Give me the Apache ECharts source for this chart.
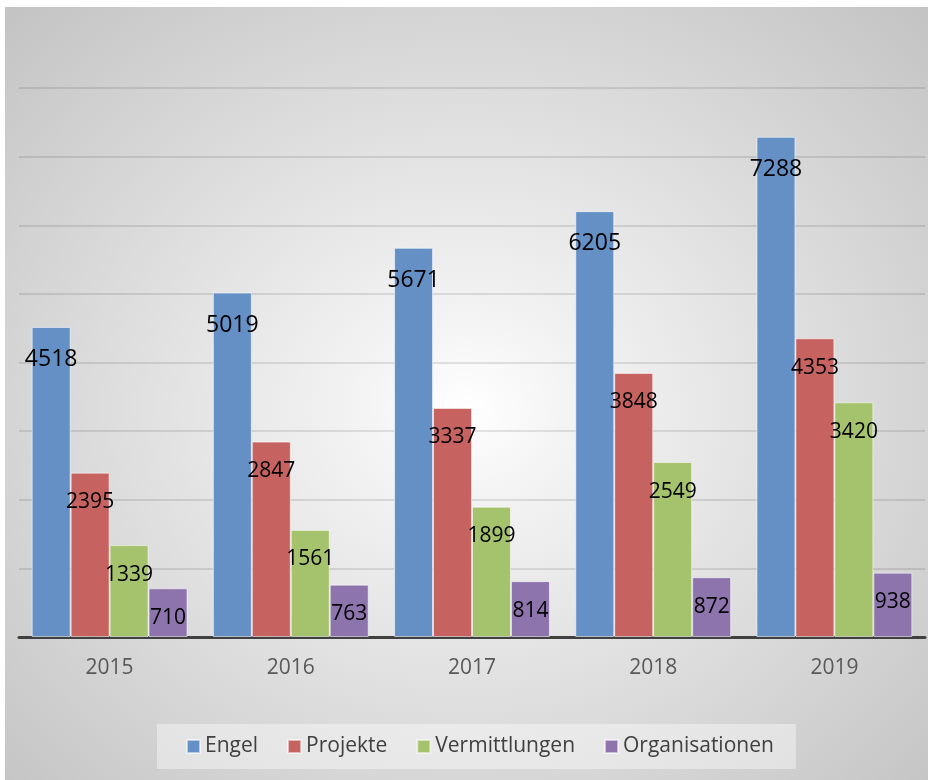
<!DOCTYPE html>
<html>
<head>
<meta charset="utf-8">
<script src="https://cdn.jsdelivr.net/npm/echarts@6/dist/echarts.min.js"></script>
<style>
html,body{margin:0;padding:0;background:#fff;width:933px;height:780px;overflow:hidden;}
#bg{position:absolute;left:5px;top:7px;width:923px;height:773px;
background:radial-gradient(ellipse farthest-corner at 50% 52%, #ffffff 0%, #f4f4f4 15%, #c3c3c3 100%);}
#chart{position:absolute;left:0;top:0;width:933px;height:780px;}
</style>
</head>
<body>
<div id="bg"></div>
<div id="chart"></div>
<script>
const categories = ['2015', '2016', '2017', '2018', '2019'];
const engel = [4518, 5019, 5671, 6205, 7288];
const projekte = [2395, 2847, 3337, 3848, 4353];
const vermittlungen = [1339, 1561, 1899, 2549, 3420];
const organisationen = [710, 763, 814, 872, 938];
const seriesNames = ['Engel', 'Projekte', 'Vermittlungen', 'Organisationen'];

const FONT = '"Open Sans", "Noto Sans", sans-serif';
const colors = ['#6590C6', '#C6625F', '#A5C26C', '#8D74AD'];

function mkSeries(name, data, color, big) {
  return {
    name: name,
    type: 'bar',
    data: data,
    barGap: '0%',
    barCategoryGap: '14%',
    itemStyle: { color: color, borderColor: 'rgba(255,255,255,0.55)', borderWidth: 1 },
    label: {
      show: true,
      position: 'insideTop',
      distance: big ? 21 : 19,
      fontFamily: FONT,
      fontSize: big ? 23 : 21,
      color: '#000'
    }
  };
}

const chart = echarts.init(document.getElementById('chart'), null, { renderer: 'canvas' });
chart.setOption({
  backgroundColor: 'transparent',
  animation: false,
  grid: { left: 19, right: 8, top: 88, bottom: 143, containLabel: false },
  legend: {
    data: seriesNames,
    left: 157,
    top: 724,
    padding: [12, 22, 12, 29],
    backgroundColor: 'rgba(255,255,255,0.4)',
    itemWidth: 13,
    itemHeight: 13,
    itemGap: 29,
    icon: 'rect',
    textStyle: { fontFamily: FONT, fontSize: 21, color: '#404040', padding: [0, 0, 0, 0] }
  },
  xAxis: {
    type: 'category',
    data: categories,
    axisLine: { lineStyle: { color: '#404040', width: 3 } },
    axisTick: { show: false },
    axisLabel: { fontFamily: FONT, fontSize: 21, color: '#595959', margin: 21 }
  },
  yAxis: {
    type: 'value',
    min: 0,
    max: 8000,
    interval: 1000,
    axisLabel: { show: false },
    axisLine: { show: false },
    axisTick: { show: false },
    splitLine: { lineStyle: { color: 'rgba(0,0,0,0.1)', width: 2 } }
  },
  series: [
    mkSeries(seriesNames[0], engel, colors[0], true),
    mkSeries(seriesNames[1], projekte, colors[1], false),
    mkSeries(seriesNames[2], vermittlungen, colors[2], false),
    mkSeries(seriesNames[3], organisationen, colors[3], false)
  ]
});
</script>
</body>
</html>
